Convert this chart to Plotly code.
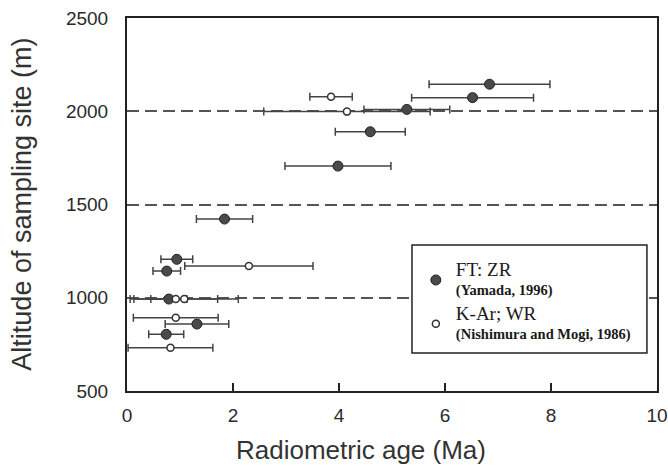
import plotly.graph_objects as go

# FT: ZR (filled)
ft_age = [6.84, 6.52, 5.28, 4.59, 3.98, 1.84, 0.94, 0.75, 0.79, 1.32, 0.74]
ft_alt = [2145, 2073, 2010, 1890, 1706, 1422, 1206, 1143, 993, 859, 804]
ft_err = [1.14, 1.15, 0.81, 0.66, 1.00, 0.53, 0.30, 0.26, 0.34, 0.60, 0.33]

# K-Ar; WR (open)
ka_age = [3.85, 4.15, 2.30, 0.92, 1.08, 0.92, 0.82]
ka_alt = [2078, 1998, 1170, 993, 993, 893, 732]
ka_err = [0.40, 1.57, 1.21, 0.79, 1.02, 0.80, 0.80]

x_ticks = [0, 2, 4, 6, 8, 10]
y_ticks = [500, 1000, 1500, 2000, 2500]

ink = "#2a2a2a"
serif = "Liberation Serif"

fig = go.Figure()
fig.add_trace(go.Scatter(
    x=ft_age, y=ft_alt, mode="markers", legendgroup="ft",
    name="<span style='font-size:19px'>FT: ZR</span><br><b>(Yamada, 1996)</b>",
    marker=dict(size=10, color="#4a4a4a", line=dict(color="#222", width=1)),
    error_x=dict(type="data", array=ft_err, color="#444", thickness=1.5, width=4),
))
fig.add_trace(go.Scatter(
    x=ka_age, y=ka_alt, mode="markers", legendgroup="ka",
    name="<span style='font-size:19px'>K-Ar; WR</span><br><b>(Nishimura and Mogi, 1986)</b>",
    marker=dict(size=7, color="white", line=dict(color="#333", width=1.5)),
    error_x=dict(type="data", array=ka_err, color="#444", thickness=1.5, width=4),
))

# legend frame (decoration)
fig.add_shape(type="rect", xref="paper", yref="paper",
              x0=0.5377, x1=0.981, y0=0.1019, y1=0.3914,
              line=dict(color="#222", width=1.5), fillcolor="white", layer="above")

# axis titles as annotations (offset as in the original)
fig.add_annotation(text="Radiometric age (Ma)", xref="paper", yref="paper",
                   x=0.4416, y=-0.159, xanchor="center", yanchor="middle",
                   showarrow=False, font=dict(family="Liberation Sans", size=26, color="#333"))
fig.add_annotation(text="Altitude of sampling site (m)", xref="paper", yref="paper",
                   x=-0.1997, y=0.5, xanchor="center", yanchor="middle", textangle=-90,
                   showarrow=False, font=dict(family="Liberation Sans", size=27, color="#333"))

fig.update_layout(
    width=668, height=466,
    margin=dict(l=127, r=11, t=18, b=75),
    paper_bgcolor="white", plot_bgcolor="white",
    font=dict(family="Liberation Sans", color=ink),
    legend=dict(
        x=0.545, y=0.3656, xanchor="left", yanchor="top",
        bgcolor="rgba(0,0,0,0)", borderwidth=0,
        font=dict(family=serif, size=14.5, color="#1a1a1a"),
        tracegroupgap=3,
    ),
)
fig.update_xaxes(
    range=[0, 10], tickvals=x_ticks, ticks="inside", ticklen=8, tickwidth=1.5,
    tickcolor="#222", showline=True, linecolor="#222", linewidth=2, mirror=True,
    showgrid=False, zeroline=False, automargin=False,
    tickfont=dict(size=19, color=ink), ticklabelstandoff=6,
)
fig.update_yaxes(
    range=[500, 2500], tickvals=y_ticks, ticks="", showline=True, linecolor="#222",
    linewidth=2, mirror=True, zeroline=False, automargin=False,
    showgrid=True, gridcolor="#555", gridwidth=1.5, griddash="12px,6px",
    tickfont=dict(size=19, color=ink), ticklabelstandoff=13,
)

fig.write_html("out.html", config={"displayModeBar": False},
               post_script="document.body.style.margin='0';")
